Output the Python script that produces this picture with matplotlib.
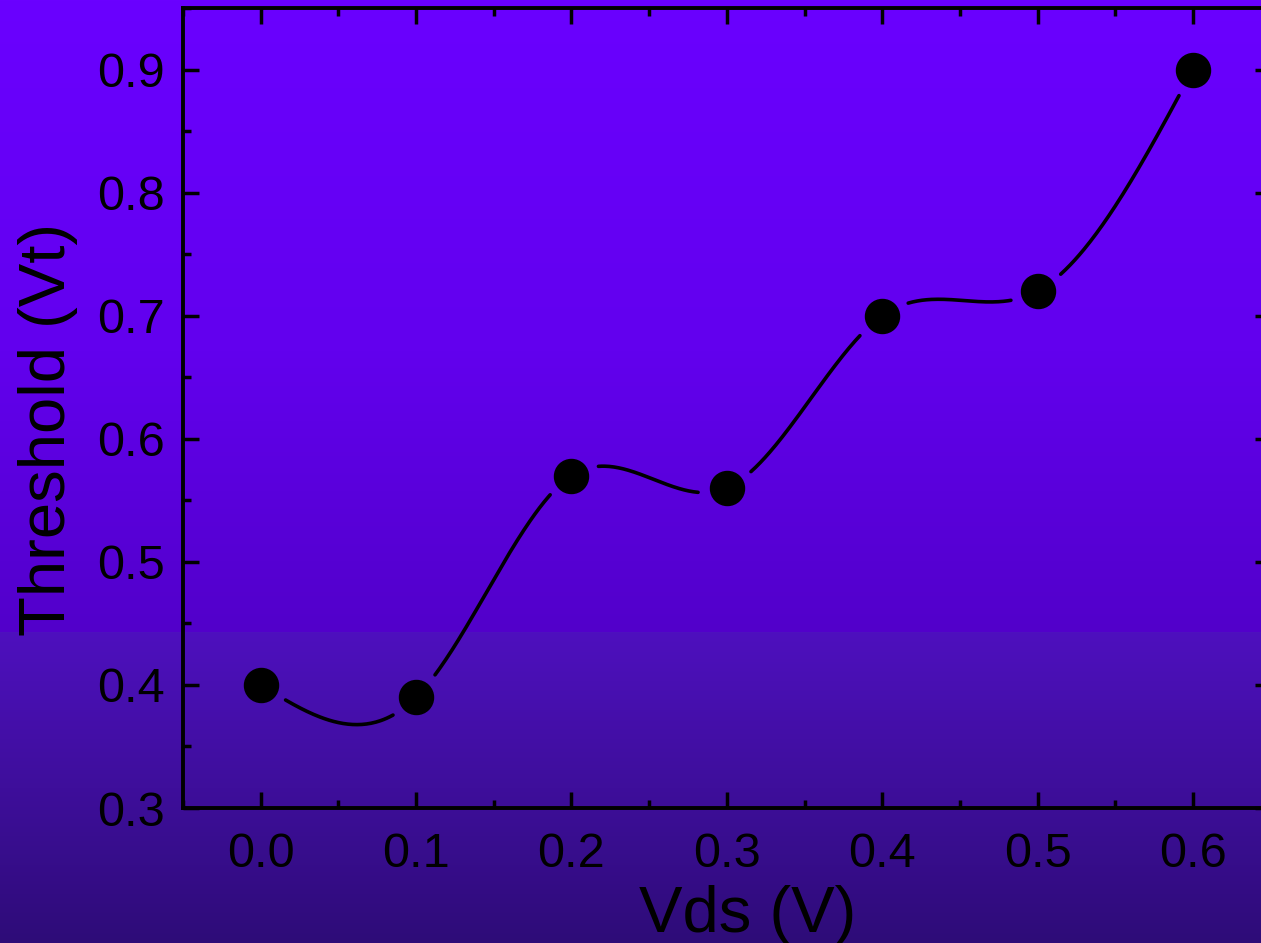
import numpy as np
import matplotlib
matplotlib.use('Agg')
import matplotlib.pyplot as plt
from matplotlib.ticker import MultipleLocator

plt.rcParams['font.family'] = ['Liberation Sans', 'DejaVu Sans']

# measured threshold voltage vs drain-source voltage
vds = [0.0, 0.1, 0.2, 0.3, 0.4, 0.5, 0.6]
threshold = [0.40, 0.39, 0.57, 0.56, 0.70, 0.72, 0.90]
xtick_labels = ['0.0', '0.1', '0.2', '0.3', '0.4', '0.5', '0.6']
ytick_labels = ['0.3', '0.4', '0.5', '0.6', '0.7', '0.8', '0.9']


def natural_spline(x, y, n=600):
    # natural cubic spline through (x, y), sampled on n points
    x = np.asarray(x, float)
    y = np.asarray(y, float)
    k = len(x)
    h = np.diff(x)
    A = np.zeros((k, k))
    b = np.zeros(k)
    A[0, 0] = A[-1, -1] = 1.0
    for i in range(1, k - 1):
        A[i, i - 1] = h[i - 1]
        A[i, i] = 2 * (h[i - 1] + h[i])
        A[i, i + 1] = h[i]
        b[i] = 6 * ((y[i + 1] - y[i]) / h[i] - (y[i] - y[i - 1]) / h[i - 1])
    m = np.linalg.solve(A, b)
    xs = np.linspace(x[0], x[-1], n)
    idx = np.clip(np.searchsorted(x, xs) - 1, 0, k - 2)
    x0, x1 = x[idx], x[idx + 1]
    hh = x1 - x0
    t0, t1 = x1 - xs, xs - x0
    ys = (m[idx] * t0 ** 3 + m[idx + 1] * t1 ** 3) / (6 * hh) \
        + (y[idx] / hh - m[idx] * hh / 6) * t0 \
        + (y[idx + 1] / hh - m[idx + 1] * hh / 6) * t1
    return xs, ys


W, H = 1261, 943
fig = plt.figure(figsize=(W / 100, H / 100), dpi=100)

# purple background, two vertical gradients meeting at a seam
rows = np.arange(H)
stops_y = [0, 350, 631, 632, H - 1]
stops_c = np.array([[106, 0, 255], [98, 0, 238], [82, 0, 202],
                    [78, 16, 190], [46, 12, 120]], float)
grad = np.stack([np.interp(rows, stops_y, stops_c[:, c]) for c in range(3)], axis=1)
grad = np.repeat(grad[:, None, :], 8, axis=1) / 255.0
bg = fig.add_axes([0, 0, 1, 1], zorder=0)
bg.imshow(grad, aspect='auto', extent=[0, 1, 0, 1], origin='upper')
bg.axis('off')

ax = fig.add_axes([183 / W, 135 / H, 1087.7 / W, 800 / H], zorder=1)
ax.set_facecolor('none')
ax.set_xlim(-0.05, 0.65)
ax.set_ylim(0.3, 0.95)

# smooth connecting line, broken around each symbol
xs, ys = natural_spline(vds, threshold)
pix = ax.transData.transform(np.column_stack([xs, ys]))
pts = ax.transData.transform(np.column_stack([vds, threshold]))
ys_line = ys.copy()
for px, py in pts:
    ys_line[np.hypot(pix[:, 0] - px, pix[:, 1] - py) < 28] = np.nan
ax.plot(xs, ys_line, color='black', lw=2.6, solid_capstyle='round')
ax.plot(vds, threshold, 'o', color='black', markersize=24.5, zorder=3)

ax.set_xticks(vds)
ax.set_xticklabels(xtick_labels)
ax.set_yticks([0.3, 0.4, 0.5, 0.6, 0.7, 0.8, 0.9])
ax.set_yticklabels(ytick_labels)
ax.xaxis.set_minor_locator(MultipleLocator(0.05))
ax.yaxis.set_minor_locator(MultipleLocator(0.05))
ax.tick_params(which='both', direction='in', top=True, right=True,
               width=2.5, colors='black', labelsize=35)
ax.tick_params(which='major', length=11.5)
ax.tick_params(which='minor', length=5.8)
ax.tick_params(axis='x', pad=17)
ax.tick_params(axis='y', pad=13)
for sp in ax.spines.values():
    sp.set_linewidth(2.8)
    sp.set_color('black')

fig.text(748 / W, 11 / H, 'Vds (V)', fontsize=47, ha='center', va='baseline')
fig.text(65 / W, 1 - 430 / H, 'Threshold (Vt)', fontsize=47, rotation=90,
         rotation_mode='anchor', ha='center', va='baseline')

fig.savefig('out.png', dpi=100)
